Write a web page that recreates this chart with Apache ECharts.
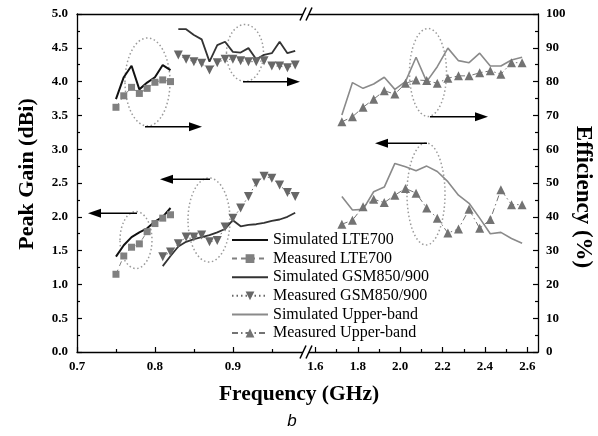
<!DOCTYPE html>
<html><head><meta charset="utf-8">
<script src="https://cdn.jsdelivr.net/npm/echarts@6/dist/echarts.min.js"></script>
<style>html,body{margin:0;padding:0;background:#fff}#c{width:598px;height:436px}</style>
</head><body><div id="c"></div>
<script>
// ---------- data ----------
const lteFreq      = [0.75, 0.76, 0.77, 0.78, 0.79, 0.80, 0.81, 0.82];
const lteSimGain   = [1.41, 1.58, 1.70, 1.77, 1.83, 1.93, 2.00, 2.13];
const lteMeasGain  = [1.15, 1.42, 1.55, 1.60, 1.78, 1.90, 1.98, 2.03];
const lteSimEff    = [74.8, 81.3, 84.7, 77.7, 79.7, 81.3, 84.9, 83.4];
const lteMeasEff   = [72.4, 75.8, 78.3, 76.5, 78.0, 79.8, 80.5, 80.0];

const gsmGainFreq  = [0.81, 0.82, 0.83, 0.84, 0.85, 0.86, 0.87, 0.88, 0.89, 0.90, 0.91, 0.92, 0.93, 0.94, 0.95, 0.96, 0.97, 0.98];
const gsmSimGain   = [1.27, 1.42, 1.56, 1.63, 1.67, 1.70, 1.73, 1.77, 1.82, 1.95, 1.86, 1.88, 1.89, 1.91, 1.94, 1.96, 2.00, 2.06];
const gsmMeasGain  = [1.41, 1.48, 1.60, 1.70, 1.70, 1.73, 1.63, 1.65, 1.85, 1.98, 2.13, 2.30, 2.50, 2.60, 2.57, 2.47, 2.36, 2.30];
const gsmEffFreq   = [0.83, 0.84, 0.85, 0.86, 0.87, 0.88, 0.89, 0.90, 0.91, 0.92, 0.93, 0.94, 0.95, 0.96, 0.97, 0.98];
const gsmSimEff    = [95.5, 95.5, 93.8, 92.5, 85.9, 90.8, 91.8, 88.8, 88.6, 89.9, 86.6, 87.9, 88.4, 91.8, 88.4, 89.1];
const gsmMeasEff   = [87.9, 86.6, 85.9, 85.4, 83.4, 85.6, 86.6, 86.6, 86.2, 85.9, 85.9, 86.2, 84.6, 84.6, 84.1, 84.9];

const upFreq       = [1.725, 1.775, 1.825, 1.875, 1.925, 1.975, 2.025, 2.075, 2.125, 2.175, 2.225, 2.275, 2.325, 2.375, 2.425, 2.475, 2.525, 2.575];
const upSimGain    = [2.30, 2.10, 2.11, 2.37, 2.44, 2.79, 2.74, 2.68, 2.75, 2.67, 2.52, 2.32, 2.20, 1.98, 1.75, 1.77, 1.68, 1.61];
const upMeasGain   = [1.89, 1.95, 2.15, 2.26, 2.21, 2.32, 2.42, 2.35, 2.13, 1.98, 1.76, 1.82, 2.11, 1.83, 1.96, 2.40, 2.18, 2.18];
const upSimEff     = [70.1, 79.7, 78.0, 79.3, 81.3, 77.7, 80.0, 87.2, 80.0, 84.4, 89.9, 86.2, 85.6, 88.4, 84.6, 84.6, 86.4, 87.2];
const upMeasEff    = [68.1, 69.6, 72.4, 74.8, 77.3, 76.3, 79.5, 80.5, 80.3, 79.5, 81.0, 81.7, 81.7, 82.6, 83.2, 82.2, 85.6, 85.6];

const legendNames  = ['Simulated LTE700', 'Measured LTE700', 'Simulated GSM850/900', 'Measured GSM850/900', 'Simulated Upper-band', 'Measured Upper-band'];

// tick labels
const xTicksLow    = [0.7, 0.8, 0.9];
const xMinorLow    = [0.75, 0.85, 0.95];
const xTicksHigh   = [1.6, 1.8, 2.0, 2.2, 2.4, 2.6];
const xMinorHigh   = [1.7, 1.9, 2.1, 2.3, 2.5];

// ---------- chart ----------
const SERIF = 'Liberation Serif';
const BLK = '#000';
const tickFont = {fontFamily: SERIF, fontWeight: 'bold', fontSize: 13, color: BLK};
const axLine = {show: true, onZero: false, lineStyle: {color: BLK, width: 1.3}};

function zip(xs, ys) { return xs.map((x, i) => [x, ys[i]]); }

function xAxes(grid, min, max, major, minor) {
  return [
    {gridIndex: grid, type: 'value', min, max, position: 'bottom',
     axisLine: axLine,
     axisTick: {show: true, inside: true, length: 5, customValues: major, lineStyle: {color: BLK, width: 1.2}},
     axisLabel: Object.assign({customValues: major, margin: 8, formatter: v => v.toFixed(1)}, tickFont),
     splitLine: {show: false}},
    {gridIndex: grid, type: 'value', min, max, position: 'bottom',
     axisLine: {show: false, onZero: false},
     axisTick: {show: true, inside: true, length: 3, customValues: minor, lineStyle: {color: BLK, width: 1.2}},
     axisLabel: {show: false}, splitLine: {show: false}},
    {gridIndex: grid, type: 'value', min, max, position: 'top',
     axisLine: axLine, axisTick: {show: false}, axisLabel: {show: false}, splitLine: {show: false}}
  ];
}

const styles = {
  'Simulated LTE700':     {color: '#111', lineStyle: {width: 2, type: 'solid'}, symbol: 'none'},
  'Measured LTE700':      {color: '#808080', lineStyle: {width: 1, type: [5, 4]}, symbol: 'rect', symbolSize: 7},
  'Simulated GSM850/900': {color: '#333', lineStyle: {width: 1.8, type: 'solid'}, symbol: 'none'},
  'Measured GSM850/900':  {color: '#676767', lineStyle: {width: 1, type: [1.5, 3]}, symbol: 'triangle', symbolSize: 9, symbolRotate: 180},
  'Simulated Upper-band': {color: '#8a8a8a', lineStyle: {width: 1.6, type: 'solid'}, symbol: 'none'},
  'Measured Upper-band':  {color: '#737373', lineStyle: {width: 1, type: [6, 3, 1.5, 3]}, symbol: 'triangle', symbolSize: 9}
};

function ser(name, data, xi, yi) {
  const s = styles[name];
  return {
    name, type: 'line', data, xAxisIndex: xi, yAxisIndex: yi,
    symbol: s.symbol, symbolSize: s.symbolSize || 0, symbolRotate: s.symbolRotate || 0,
    showSymbol: s.symbol !== 'none',
    itemStyle: {color: s.color},
    lineStyle: Object.assign({color: s.color}, s.lineStyle),
    animation: false, z: 3
  };
}

const series = [
  // left part: gain on yAxis 0, efficiency on yAxis 1
  ser('Simulated LTE700', zip(lteFreq, lteSimGain), 0, 0),
  ser('Simulated LTE700', zip(lteFreq, lteSimEff), 0, 1),
  ser('Measured LTE700', zip(lteFreq, lteMeasGain), 0, 0),
  ser('Measured LTE700', zip(lteFreq, lteMeasEff), 0, 1),
  ser('Simulated GSM850/900', zip(gsmGainFreq, gsmSimGain), 0, 0),
  ser('Simulated GSM850/900', zip(gsmEffFreq, gsmSimEff), 0, 1),
  ser('Measured GSM850/900', zip(gsmGainFreq, gsmMeasGain), 0, 0),
  ser('Measured GSM850/900', zip(gsmEffFreq, gsmMeasEff), 0, 1),
  // right part: efficiency on yAxis 2, gain on yAxis 3
  ser('Simulated Upper-band', zip(upFreq, upSimGain), 3, 3),
  ser('Simulated Upper-band', zip(upFreq, upSimEff), 3, 2),
  ser('Measured Upper-band', zip(upFreq, upMeasGain), 3, 3),
  ser('Measured Upper-band', zip(upFreq, upMeasEff), 3, 2)
];

// annotation graphics (pixel positions)
const ellipses = [
  {cx: 147.5, cy: 82, rx: 22.5, ry: 44}, {cx: 245, cy: 53, rx: 18.5, ry: 28.5},
  {cx: 136, cy: 240, rx: 16, ry: 28.5}, {cx: 209, cy: 220, rx: 21, ry: 42},
  {cx: 428, cy: 72.5, rx: 18.5, ry: 44}, {cx: 426, cy: 194, rx: 19, ry: 51}
];
const arrows = [
  [145, 126.7, 202, 126.7], [243, 81.7, 300, 81.7], [137, 213.3, 88, 213.3],
  [210, 179.3, 160, 179.3], [430, 116.7, 488, 116.7], [427, 143.3, 375, 143.3]
];
const graphics = [];
ellipses.forEach(e => graphics.push({type: 'ellipse', shape: e, z: 1,
  style: {fill: null, stroke: '#9a9a9a', lineWidth: 1.5, lineDash: [1.5, 2.5]}}));
arrows.forEach(([x1, y1, x2, y2]) => {
  const d = Math.sign(x2 - x1), hl = 13, hw = 4.5;
  graphics.push({type: 'line', z: 5, shape: {x1, y1, x2: x2 - d * hl, y2},
    style: {stroke: '#000', lineWidth: 1.5}});
  graphics.push({type: 'polygon', z: 5,
    shape: {points: [[x2, y2], [x2 - d * hl, y2 - hw], [x2 - d * hl, y2 + hw]]},
    style: {fill: '#000'}});
});
// axis break marks
[14, 352].forEach(y => {
  graphics.push({type: 'rect', z: 6, shape: {x: 303, y: y - 2, width: 6, height: 4}, style: {fill: '#fff'}});
  [300, 306].forEach(x => graphics.push({type: 'line', z: 7,
    shape: {x1: x, y1: y + 6.5, x2: x + 6, y2: y - 6.5}, style: {stroke: '#000', lineWidth: 1.5}}));
});
graphics.push({type: 'text', z: 7, style: {text: 'Frequency (GHz)', x: 299, y: 394,
  textAlign: 'center', textVerticalAlign: 'middle', font: 'bold 21.5px "Liberation Serif"', fill: '#000'}});
graphics.push({type: 'text', z: 7, style: {text: 'b', x: 292, y: 421,
  textAlign: 'center', textVerticalAlign: 'middle', font: 'italic 17px "Liberation Sans"', fill: '#000'}});

const option = {
  backgroundColor: '#fff',
  animation: false,
  grid: [
    {left: 77, top: 14, width: 226, height: 338},
    {left: 309, top: 14, width: 229, height: 338}
  ],
  xAxis: [].concat(
    xAxes(0, 0.7, 0.99, xTicksLow, xMinorLow),
    xAxes(1, 1.57, 2.65, xTicksHigh, xMinorHigh)
  ),
  yAxis: [
    {gridIndex: 0, type: 'value', min: 0, max: 5, interval: 0.5, position: 'left',
     axisLine: axLine,
     axisTick: {show: true, inside: true, length: 5, lineStyle: {color: BLK, width: 1.2}},
     minorTick: {show: true, splitNumber: 2, length: 3, lineStyle: {color: BLK, width: 1.2}},
     axisLabel: Object.assign({margin: 9, formatter: v => v.toFixed(1)}, tickFont),
     splitLine: {show: false},
     name: 'Peak Gain (dBi)', nameLocation: 'middle', nameGap: 39, nameRotate: 90,
     nameTextStyle: {fontFamily: SERIF, fontWeight: 'bold', fontSize: 22, color: BLK, padding: [0, 0, 0, 18]}},
    {gridIndex: 0, type: 'value', min: 0, max: 100, show: false},
    {gridIndex: 1, type: 'value', min: 0, max: 100, interval: 10, position: 'right',
     axisLine: axLine,
     axisTick: {show: true, inside: true, length: 5, lineStyle: {color: BLK, width: 1.2}},
     minorTick: {show: true, splitNumber: 2, length: 3, lineStyle: {color: BLK, width: 1.2}},
     axisLabel: Object.assign({margin: 8}, tickFont),
     splitLine: {show: false},
     name: 'Efficiency (%)', nameLocation: 'middle', nameGap: 33, nameRotate: -90,
     nameTextStyle: {fontFamily: SERIF, fontWeight: 'bold', fontSize: 23, color: BLK, padding: [0, 0, 0, 28]}},
    {gridIndex: 1, type: 'value', min: 0, max: 5, show: false}
  ],
  legend: {
    data: legendNames.map(n => styles[n].symbol === 'none' ? {name: n, itemStyle: {opacity: 0}} : n),
    orient: 'vertical', left: 231, top: 232,
    itemWidth: 36, itemHeight: 11, itemGap: 2.6, padding: 0,
    textStyle: {fontFamily: SERIF, fontSize: 16, color: BLK},
    inactiveColor: '#ccc'
  },
  graphic: graphics,
  series
};

const chart = echarts.init(document.getElementById('c'), null, {renderer: 'canvas'});
chart.setOption(option);
</script></body></html>
